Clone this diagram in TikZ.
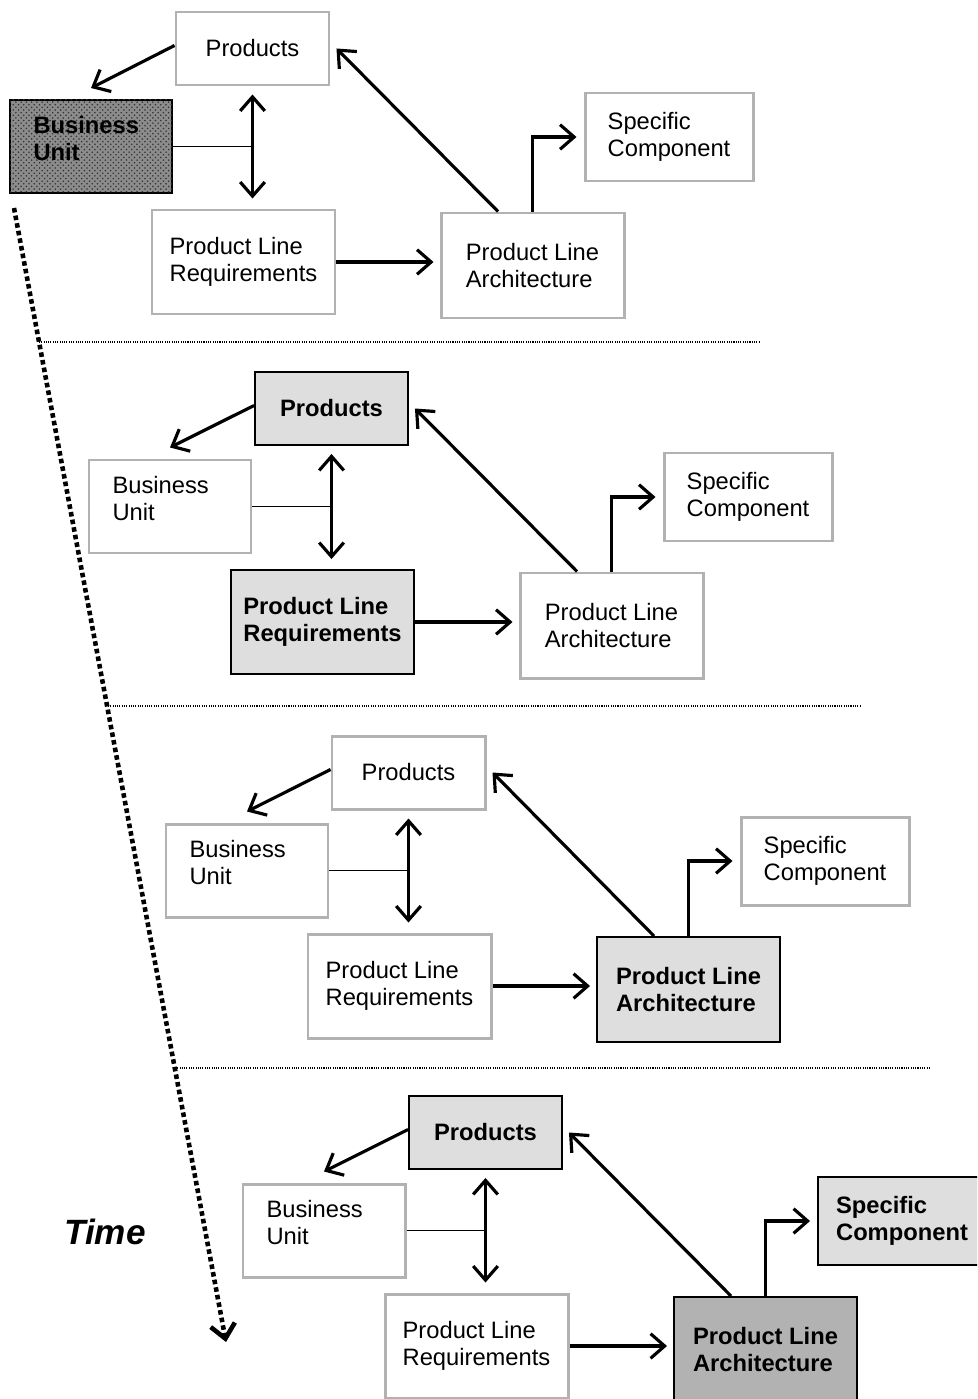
\documentclass[tikz,border=0pt]{standalone}
\usepackage{fontspec}
\setmainfont{Liberation Sans}
\usetikzlibrary{arrows.meta,patterns}
\tikzstyle{box}=[rectangle,draw=black!30,line width=1.7pt,fill=white,align=left,inner sep=0pt]
\tikzstyle{hbox}=[rectangle,draw=black,line width=1.1pt,fill=black!13,align=left,inner sep=0pt,
font=\fontsize{13.5}{15.4}\selectfont\bfseries]
\tikzstyle{dbox}=[hbox,fill=black!30]
\tikzstyle{hatched}=[hbox,fill=black!45,postaction={pattern=crosshatch dots,pattern color=black!80}]
\tikzstyle{unit}=[minimum width=3.24cm,minimum height=1.86cm,text width=2.3cm,text depth=0.86cm]
\tikzstyle{arr}=[->,line width=1.8pt]
\tikzstyle{link}=[line width=0.7pt]
\tikzstyle{sep}=[line width=0.8pt,dash pattern=on 0.6pt off 0.7pt]
\tikzstyle{timeline}=[->,line width=2.6pt,dash pattern=on 2.6pt off 1.8pt]

\begin{document}
\begin{tikzpicture}[>={Straight Barb[length=8pt,width=14pt]},font=\fontsize{13.5}{15.4}\selectfont]
  \useasboundingbox (0,0) rectangle (19.54,-27.98);
  \clip (0,0) rectangle (19.54,-27.98);

  % first step
  \begin{scope}
    \node[hatched,unit] (bu1) at (1.82,-2.93) {Business\\Unit};
    \node[box,minimum width=3.06cm,minimum height=1.46cm] (prod1) at (5.05,-0.97) {Products};
    \node[box,minimum width=3.66cm,minimum height=2.08cm] (req1) at (4.87,-5.24) {Product Line\\Requirements};
    \node[box,minimum width=3.66cm,minimum height=2.10cm] (arch1) at (10.65,-5.31) {Product Line\\Architecture};
    \node[box,minimum width=3.36cm,minimum height=1.76cm] (spec1) at (13.38,-2.74) {Specific\\Component};

    \draw[arr] ([yshift=0.06cm]prod1.west) -- ([yshift=0.22cm]bu1.north);
    \draw[arr,<->] ([yshift=-0.16cm]prod1.south) -- ([yshift=0.2cm]prod1.south |- req1.north);
    \draw[link] (bu1.east) -- (bu1.east -| prod1.south);
    \draw[arr] (req1.east) -- ([xshift=-0.12cm]req1.east -| arch1.west);
    \draw[arr] ([xshift=-0.69cm]arch1.north) -- ([xshift=0.12cm]prod1.east);
    \draw[arr] (arch1.north) |- ([xshift=-0.14cm]spec1.west);
  \end{scope}

  % second step
  \begin{scope}[shift={(1.58,-7.20)}]
    \node[box,unit] (bu2) at (1.82,-2.93) {Business\\Unit};
    \node[hbox,minimum width=3.06cm,minimum height=1.46cm] (prod2) at (5.05,-0.97) {Products};
    \node[hbox,minimum width=3.66cm,minimum height=2.08cm] (req2) at (4.87,-5.24) {Product Line\\Requirements};
    \node[box,minimum width=3.66cm,minimum height=2.10cm] (arch2) at (10.65,-5.31) {Product Line\\Architecture};
    \node[box,minimum width=3.36cm,minimum height=1.76cm] (spec2) at (13.38,-2.74) {Specific\\Component};

    \draw[arr] ([yshift=0.06cm]prod2.west) -- ([yshift=0.22cm]bu2.north);
    \draw[arr,<->] ([yshift=-0.16cm]prod2.south) -- ([yshift=0.2cm]prod2.south |- req2.north);
    \draw[link] (bu2.east) -- (bu2.east -| prod2.south);
    \draw[arr] (req2.east) -- ([xshift=-0.12cm]req2.east -| arch2.west);
    \draw[arr] ([xshift=-0.69cm]arch2.north) -- ([xshift=0.12cm]prod2.east);
    \draw[arr] (arch2.north) |- ([xshift=-0.14cm]spec2.west);
  \end{scope}

  % third step
  \begin{scope}[shift={(3.12,-14.48)}]
    \node[box,unit] (bu3) at (1.82,-2.93) {Business\\Unit};
    \node[box,minimum width=3.06cm,minimum height=1.46cm] (prod3) at (5.05,-0.97) {Products};
    \node[box,minimum width=3.66cm,minimum height=2.08cm] (req3) at (4.87,-5.24) {Product Line\\Requirements};
    \node[hbox,minimum width=3.66cm,minimum height=2.10cm] (arch3) at (10.65,-5.31) {Product Line\\Architecture};
    \node[box,minimum width=3.36cm,minimum height=1.76cm] (spec3) at (13.38,-2.74) {Specific\\Component};

    \draw[arr] ([yshift=0.06cm]prod3.west) -- ([yshift=0.22cm]bu3.north);
    \draw[arr,<->] ([yshift=-0.16cm]prod3.south) -- ([yshift=0.2cm]prod3.south |- req3.north);
    \draw[link] (bu3.east) -- (bu3.east -| prod3.south);
    \draw[arr] (req3.east) -- ([xshift=-0.12cm]req3.east -| arch3.west);
    \draw[arr] ([xshift=-0.69cm]arch3.north) -- ([xshift=0.12cm]prod3.east);
    \draw[arr] (arch3.north) |- ([xshift=-0.14cm]spec3.west);
  \end{scope}

  % fourth step
  \begin{scope}[shift={(4.66,-21.68)}]
    \node[box,unit] (bu4) at (1.82,-2.93) {Business\\Unit};
    \node[hbox,minimum width=3.06cm,minimum height=1.46cm] (prod4) at (5.05,-0.97) {Products};
    \node[box,minimum width=3.66cm,minimum height=2.08cm] (req4) at (4.87,-5.24) {Product Line\\Requirements};
    \node[dbox,minimum width=3.66cm,minimum height=2.10cm] (arch4) at (10.65,-5.31) {Product Line\\Architecture};
    \node[hbox,minimum width=3.36cm,minimum height=1.76cm] (spec4) at (13.38,-2.74) {Specific\\Component};

    \draw[arr] ([yshift=0.06cm]prod4.west) -- ([yshift=0.22cm]bu4.north);
    \draw[arr,<->] ([yshift=-0.16cm]prod4.south) -- ([yshift=0.2cm]prod4.south |- req4.north);
    \draw[link] (bu4.east) -- (bu4.east -| prod4.south);
    \draw[arr] (req4.east) -- ([xshift=-0.12cm]req4.east -| arch4.west);
    \draw[arr] ([xshift=-0.69cm]arch4.north) -- ([xshift=0.12cm]prod4.east);
    \draw[arr] (arch4.north) |- ([xshift=-0.14cm]spec4.west);
  \end{scope}

  % separators and time axis
  \draw[sep] (0.78,-6.84) -- (15.2,-6.84);
  \draw[sep] (2.16,-14.12) -- (17.2,-14.12);
  \draw[sep] (3.5,-21.36) -- (18.6,-21.36);

  \coordinate (ts) at (0.28,-4.16);
  \coordinate (te) at (4.52,-26.84);
  \draw[timeline] (ts) -- (te);
  \node[font=\fontsize{20}{24}\selectfont\bfseries\itshape] (time) at (2.10,-24.64) {Time};
\end{tikzpicture}
\end{document}
